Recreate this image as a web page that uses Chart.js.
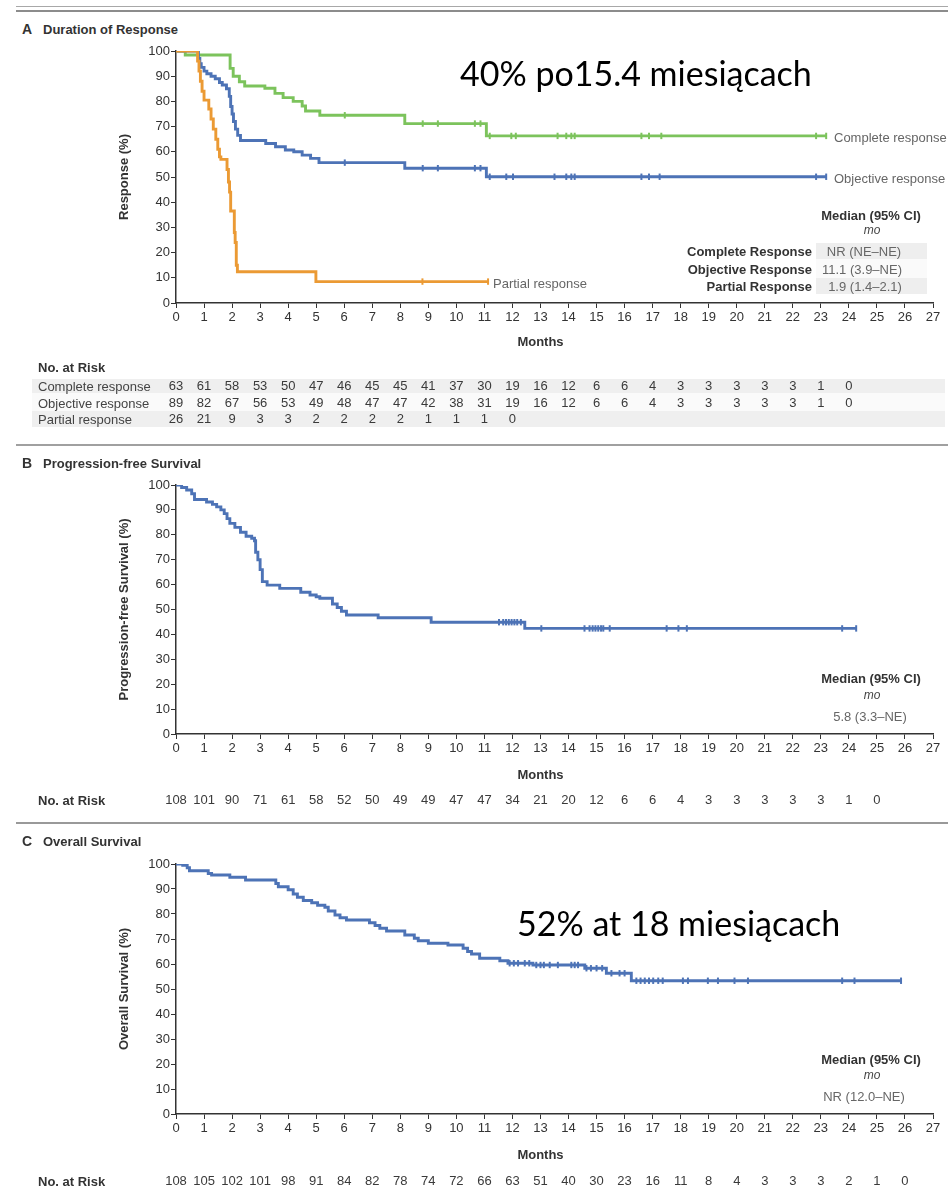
<!DOCTYPE html>
<html><head><meta charset="utf-8">
<script src="https://cdn.jsdelivr.net/npm/chart.js@4.4.0/dist/chart.umd.min.js"></script>
<style>
body{margin:0;background:#fff;width:948px;height:1202px;position:relative;overflow:hidden;font-family:"Liberation Sans",Arial,sans-serif;}
.t{position:absolute;white-space:nowrap;line-height:1;transform:translateY(-50%);font-size:13px;color:#333;z-index:3;}
.b{font-weight:bold;}
.c{transform:translate(-50%,-50%);}
.r{transform:translate(-100%,-50%);}
.i{font-style:italic;font-size:12px;color:#444;}
.lbl{color:#666;}
.val{color:#666;}
.rl{color:#444;}
.ann{font-family:Lato,"Open Sans",sans-serif;font-size:34px;color:#000;}
.bx{position:absolute;z-index:0;}
canvas{position:absolute;left:0;z-index:1;}
</style></head>
<body>
<!-- separators -->
<div class="bx" style="left:16px;top:6px;width:932px;height:1px;background:#a8a8a8"></div>
<div class="bx" style="left:16px;top:10px;width:932px;height:2px;background:#8c8c8c"></div>
<div class="bx" style="left:16px;top:444px;width:932px;height:2px;background:#a0a0a0"></div>
<div class="bx" style="left:16px;top:822px;width:932px;height:2px;background:#999"></div>
<!-- table backgrounds -->
<div class="bx" style="left:32px;top:379px;width:913px;height:14px;background:#efefef"></div>
<div class="bx" style="left:32px;top:393px;width:913px;height:18px;background:#fafafa"></div>
<div class="bx" style="left:32px;top:411px;width:913px;height:16px;background:#efefef"></div>
<div class="bx" style="left:816px;top:243px;width:111px;height:16px;background:#eeeeee"></div>
<div class="bx" style="left:816px;top:259px;width:111px;height:19px;background:#fafafa"></div>
<div class="bx" style="left:816px;top:278px;width:111px;height:16px;background:#eeeeee"></div>

<canvas id="cA" width="948" height="400" style="top:40px"></canvas>
<canvas id="cB" width="948" height="340" style="top:474px"></canvas>
<canvas id="cC" width="948" height="347" style="top:853px"></canvas>

<!-- Panel A texts -->
<div class="t b" style="left:22px;top:29px;font-size:14px">A</div>
<div class="t b" style="left:43px;top:29px">Duration of Response</div>
<div class="t ann" style="left:460px;top:73px">40% po15.4 miesiącach</div>
<div class="t lbl" style="left:834px;top:137px">Complete response</div>
<div class="t lbl" style="left:834px;top:178px">Objective response</div>
<div class="t lbl" style="left:493px;top:283px">Partial response</div>
<div class="t b c" style="left:871px;top:215px">Median (95% CI)</div>
<div class="t i c" style="left:872px;top:230px">mo</div>
<div class="t b r" style="left:812px;top:251px">Complete Response</div>
<div class="t b r" style="left:812px;top:269px">Objective Response</div>
<div class="t b r" style="left:812px;top:286px">Partial Response</div>
<div class="t val c" style="left:864px;top:251px">NR (NE–NE)</div>
<div class="t val c" style="left:862px;top:269px">11.1 (3.9–NE)</div>
<div class="t val c" style="left:865px;top:286px">1.9 (1.4–2.1)</div>
<div class="t b" style="left:38px;top:367px">No. at Risk</div>
<div class="t rl" style="left:38px;top:386px">Complete response</div>
<div class="t rl" style="left:38px;top:403px">Objective response</div>
<div class="t rl" style="left:38px;top:419px">Partial response</div>

<!-- Panel B texts -->
<div class="t b" style="left:22px;top:463px;font-size:14px">B</div>
<div class="t b" style="left:43px;top:463px">Progression-free Survival</div>
<div class="t b c" style="left:871px;top:678px">Median (95% CI)</div>
<div class="t i c" style="left:872px;top:695px">mo</div>
<div class="t val c" style="left:870px;top:716px">5.8 (3.3–NE)</div>
<div class="t b" style="left:38px;top:800px">No. at Risk</div>

<!-- Panel C texts -->
<div class="t b" style="left:22px;top:841px;font-size:14px">C</div>
<div class="t b" style="left:43px;top:841px">Overall Survival</div>
<div class="t ann" style="left:517px;top:923px">52% at 18 miesiącach</div>
<div class="t b c" style="left:871px;top:1059px">Median (95% CI)</div>
<div class="t i c" style="left:872px;top:1075px">mo</div>
<div class="t val c" style="left:864px;top:1096px">NR (12.0–NE)</div>
<div class="t b" style="left:38px;top:1181px">No. at Risk</div>

<script>
// ---------------- DATA ----------------
// Panel A: Duration of response (Kaplan-Meier step points: month, %)
const completeT = [0, 0.33, 1.93, 2.04, 2.26, 2.45, 3.17, 3.53, 3.82, 4.18, 4.5, 4.62, 5.13, 8.16, 11.07, 23.19];
const completeS = [100, 98.4, 93.1, 90.0, 87.8, 86.1, 85.2, 83.2, 81.5, 80.0, 78.2, 76.2, 74.5, 71.2, 66.3, 66.3];
const completeCensorT = [6.02, 8.8, 9.34, 10.66, 10.86, 11.19, 11.96, 12.12, 13.61, 13.92, 14.1, 14.22, 16.6, 16.87, 17.31, 22.83, 23.19];
const completeCensorS = [74.5, 71.2, 71.2, 71.2, 71.2, 66.3, 66.3, 66.3, 66.3, 66.3, 66.3, 66.3, 66.3, 66.3, 66.3, 66.3, 66.3];

const objectiveT = [0, 0.8, 0.85, 0.9, 1.0, 1.1, 1.25, 1.4, 1.55, 1.65, 1.8, 1.9, 1.95, 2.0, 2.05, 2.12, 2.2, 2.3, 3.2, 3.55, 3.9, 4.2, 4.5, 4.8, 5.1, 8.16, 11.07, 23.19];
const objectiveS = [100, 97, 95, 93.5, 92, 91, 90, 89, 87.5, 86.5, 85, 82, 78, 75, 72, 69, 66.5, 64.5, 63.3, 62, 60.7, 60, 58.7, 57.4, 55.7, 53.5, 50.1, 50.1];
const objectiveCensorT = [6.02, 8.8, 9.34, 10.66, 10.86, 11.19, 11.78, 12.02, 13.5, 13.92, 14.1, 14.22, 16.6, 16.87, 17.25, 22.83, 23.19];
const objectiveCensorS = [55.7, 53.5, 53.5, 53.5, 53.5, 50.1, 50.1, 50.1, 50.1, 50.1, 50.1, 50.1, 50.1, 50.1, 50.1, 50.1, 50.1];

const partialT = [0, 0.77, 0.82, 0.87, 0.93, 1.0, 1.17, 1.25, 1.33, 1.42, 1.49, 1.55, 1.6, 1.82, 1.87, 1.91, 1.95, 2.08, 2.11, 2.15, 2.19, 4.99, 11.13];
const partialS = [100, 96, 92, 88, 84, 80.5, 77, 73, 69, 65, 61, 58, 57, 53, 48, 44, 36.5, 28, 24, 15, 12.4, 8.5, 8.5];
const partialCensorT = [8.79, 11.13];
const partialCensorS = [8.5, 8.5];

// Panel B: Progression-free survival
const pfsT = [0, 0.2, 0.38, 0.56, 0.66, 1.09, 1.3, 1.45, 1.6, 1.72, 1.82, 1.92, 2.1, 2.3, 2.5, 2.7, 2.8, 2.84, 2.92, 3.0, 3.08, 3.25, 3.7, 4.45, 4.78, 5.0, 5.13, 5.58, 5.75, 5.9, 6.08, 7.21, 9.1, 12.44, 24.26];
const pfsS = [100, 99, 98, 96.5, 94.2, 93.2, 92.2, 91.2, 90, 88.5, 86.5, 84.6, 83, 81, 79.4, 78.6, 77.6, 73, 70, 66, 61.2, 59.8, 58.5, 56.9, 55.8, 55.1, 54.5, 52.2, 50.8, 49.3, 47.8, 46.7, 44.9, 42.4, 42.4];
const pfsCensorT = [11.52, 11.67, 11.77, 11.87, 11.97, 12.07, 12.17, 12.3, 13.03, 14.57, 14.75, 14.86, 14.96, 15.06, 15.16, 15.24, 15.47, 17.5, 17.92, 18.22, 23.76, 24.26];
const pfsCensorS = [44.9, 44.9, 44.9, 44.9, 44.9, 44.9, 44.9, 44.9, 42.4, 42.4, 42.4, 42.4, 42.4, 42.4, 42.4, 42.4, 42.4, 42.4, 42.4, 42.4, 42.4, 42.4];

// Panel C: Overall survival
const osT = [0, 0.24, 0.4, 0.48, 1.15, 1.27, 1.92, 2.48, 3.56, 3.65, 4.0, 4.18, 4.33, 4.54, 4.84, 5.05, 5.31, 5.43, 5.67, 5.85, 6.08, 6.9, 7.1, 7.27, 7.51, 8.16, 8.5, 8.64, 9.0, 9.7, 10.24, 10.4, 10.54, 10.83, 11.55, 11.84, 12.73, 14.58, 15.35, 16.24, 25.86];
const osS = [100, 99.5, 98.5, 97.3, 96.2, 95.6, 94.7, 93.6, 92.2, 90.9, 89.7, 88.0, 86.7, 85.4, 84.5, 83.5, 82.7, 81.2, 79.6, 78.5, 77.6, 76.5, 75.4, 74.3, 73.2, 71.6, 70.3, 69.3, 68.3, 67.6, 66.3, 65.0, 64.0, 62.3, 61.3, 60.3, 59.6, 58.3, 56.3, 53.3, 53.3];
const osCensorT = [11.9, 12.05, 12.2, 12.44, 12.6, 12.85, 13.0, 13.12, 13.33, 13.62, 14.1, 14.22, 14.34, 14.64, 14.8, 15.0, 15.2, 15.53, 15.82, 16.0, 16.42, 16.57, 16.72, 16.87, 17.02, 17.2, 17.36, 18.08, 18.26, 18.97, 19.33, 19.92, 20.4, 23.76, 24.2, 25.86];
const osCensorS = [60.3, 60.3, 60.3, 60.3, 60.3, 59.6, 59.6, 59.6, 59.6, 59.6, 59.6, 59.6, 59.6, 58.3, 58.3, 58.3, 58.3, 56.3, 56.3, 56.3, 53.3, 53.3, 53.3, 53.3, 53.3, 53.3, 53.3, 53.3, 53.3, 53.3, 53.3, 53.3, 53.3, 53.3, 53.3, 53.3];

// Numbers at risk (one value per month, from month 0)
const riskComplete = [63, 61, 58, 53, 50, 47, 46, 45, 45, 41, 37, 30, 19, 16, 12, 6, 6, 4, 3, 3, 3, 3, 3, 1, 0];
const riskObjective = [89, 82, 67, 56, 53, 49, 48, 47, 47, 42, 38, 31, 19, 16, 12, 6, 6, 4, 3, 3, 3, 3, 3, 1, 0];
const riskPartial = [26, 21, 9, 3, 3, 2, 2, 2, 2, 1, 1, 1, 0];
const riskPFS = [108, 101, 90, 71, 61, 58, 52, 50, 49, 49, 47, 47, 34, 21, 20, 12, 6, 6, 4, 3, 3, 3, 3, 3, 1, 0];
const riskOS = [108, 105, 102, 101, 98, 91, 84, 82, 78, 74, 72, 66, 63, 51, 40, 30, 23, 16, 11, 8, 4, 3, 3, 3, 2, 1, 0];

const xMin = 0, xMax = 27, xStep = 1;
const yMin = 0, yMax = 100, yStep = 10;

// ---------------- STYLE / CHARTS ----------------
const GREEN = '#7cc35c', BLUE = '#4d73b6', ORANGE = '#eb9a34';
const FONT = '"Liberation Sans", Arial, sans-serif';
Chart.defaults.font.family = FONT;
Chart.defaults.font.size = 13;
Chart.defaults.color = '#333';

function riskPlugin(cfg) {
  return {
    id: 'risk_' + cfg.id,
    afterDraw(chart) {
      const ctx = chart.ctx, x = chart.scales.x;
      ctx.save();
      ctx.textAlign = 'center';
      ctx.textBaseline = 'middle';
      ctx.fillStyle = '#333';
      ctx.font = 'bold 13px ' + FONT;
      ctx.fillText('Months', x.getPixelForValue(13), cfg.monthsY);
      ctx.font = '13px ' + FONT;
      ctx.fillStyle = '#3a3a3a';
      cfg.risk.forEach(r => r.values.forEach((v, i) => ctx.fillText(String(v), x.getPixelForValue(i), r.y)));
      ctx.restore();
    }
  };
}

function makePanel(cfg) {
  const datasets = [];
  cfg.curves.forEach(c => {
    datasets.push({
      data: c.t.map((t, i) => ({x: t, y: c.s[i]})),
      borderColor: c.color, borderWidth: 2.9, pointRadius: 0, stepped: 'before',
      fill: false, order: c.order, tension: 0
    });
    datasets.push({
      data: c.ct.map((t, i) => ({x: t, y: c.cs[i]})),
      showLine: false, pointStyle: 'line', rotation: 90, pointRadius: 3.2,
      pointBorderColor: c.color, pointBorderWidth: 2, borderColor: c.color, order: c.order
    });
  });
  new Chart(document.getElementById(cfg.id), {
    type: 'line',
    data: {datasets},
    options: {
      responsive: false, animation: false, devicePixelRatio: 1, events: [],
      layout: {padding: {top: cfg.padTop, right: 15, left: 0, bottom: 0}},
      plugins: {legend: {display: false}, tooltip: {enabled: false}},
      scales: {
        x: {
          type: 'linear', min: xMin, max: xMax,
          afterFit(s) { s.height = cfg.xH; },
          ticks: {stepSize: xStep, autoSkip: false, maxRotation: 0, minRotation: 0, padding: 2, color: '#333', font: {size: 13}},
          grid: {drawOnChartArea: false, drawTicks: true, tickLength: 5, color: '#333'},
          border: {display: true, color: '#333', width: 1.5}
        },
        y: {
          min: yMin, max: yMax,
          afterFit(s) { s.width = 176; },
          ticks: {stepSize: yStep, padding: 1, color: '#333', font: {size: 13}},
          grid: {drawOnChartArea: false, drawTicks: true, tickLength: 5, color: '#333'},
          border: {display: true, color: '#333', width: 1.5},
          title: {display: true, text: cfg.yTitle, color: '#333', font: {size: 13, weight: 'bold'}, padding: {top: 117, bottom: 0}}
        }
      }
    },
    plugins: [riskPlugin(cfg)]
  });
}

makePanel({
  id: 'cA', padTop: 11, xH: 137, monthsY: 302, yTitle: 'Response (%)',
  curves: [
    {t: partialT, s: partialS, ct: partialCensorT, cs: partialCensorS, color: ORANGE, order: 0},
    {t: objectiveT, s: objectiveS, ct: objectiveCensorT, cs: objectiveCensorS, color: BLUE, order: 1},
    {t: completeT, s: completeS, ct: completeCensorT, cs: completeCensorS, color: GREEN, order: 2}
  ],
  risk: [{values: riskComplete, y: 346}, {values: riskObjective, y: 363}, {values: riskPartial, y: 379}]
});
makePanel({
  id: 'cB', padTop: 11, xH: 80, monthsY: 301, yTitle: 'Progression-free Survival (%)',
  curves: [{t: pfsT, s: pfsS, ct: pfsCensorT, cs: pfsCensorS, color: BLUE, order: 0}],
  risk: [{values: riskPFS, y: 326}]
});
makePanel({
  id: 'cC', padTop: 11, xH: 86, monthsY: 302, yTitle: 'Overall Survival (%)',
  curves: [{t: osT, s: osS, ct: osCensorT, cs: osCensorS, color: BLUE, order: 0}],
  risk: [{values: riskOS, y: 328}]
});
</script>
</body></html>
